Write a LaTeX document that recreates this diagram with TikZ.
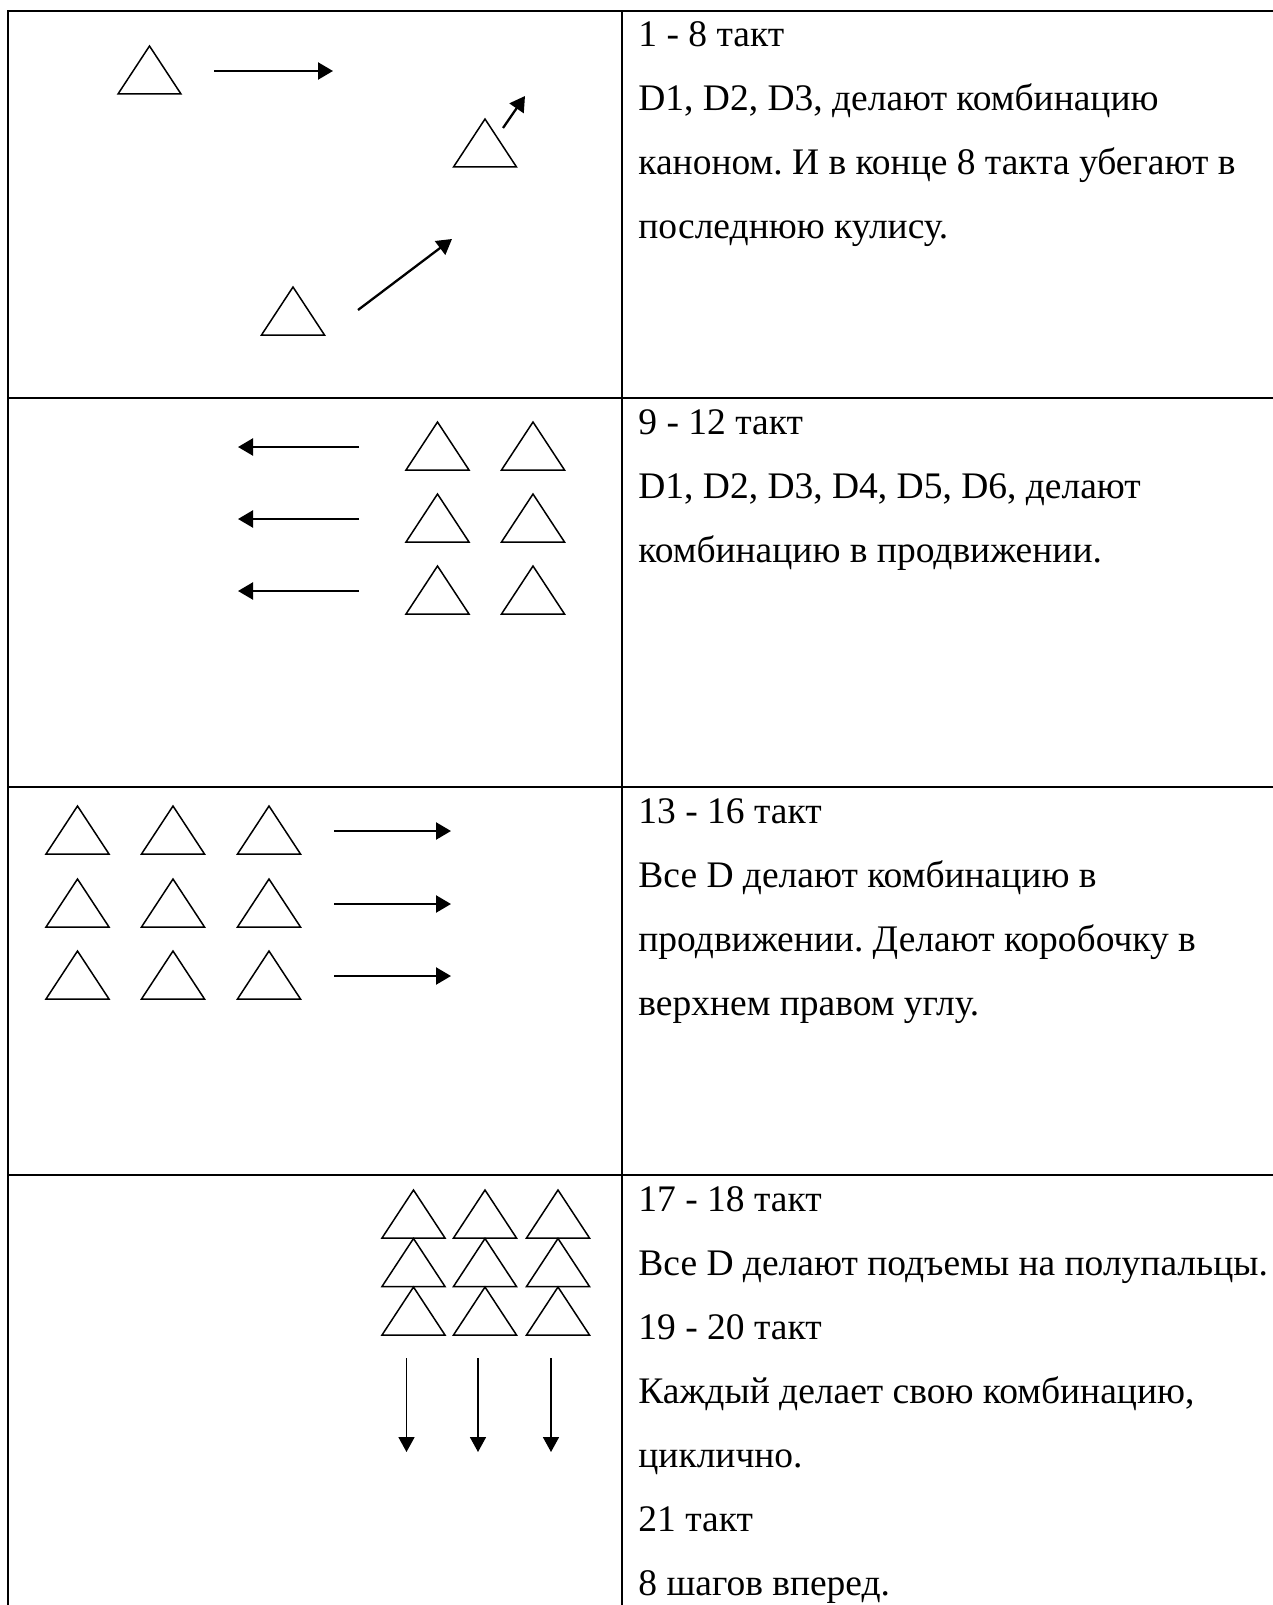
\documentclass[tikz,border=0pt]{standalone}
\usepackage{fontspec}
\setmainfont{Liberation Serif}
\usetikzlibrary{arrows.meta}
\frenchspacing

\newcommand*{\wmax}{1273}
\newcommand*{\hmax}{1605}
\newcommand*{\divx}{622}
\newcommand*{\txtx}{638}

% one dancer, anchored at the middle of its base
\tikzset{
	dancer/.pic={\draw[line width=0.75pt] (-31.5,0) -- (0,-48) -- (31.5,0) -- cycle;}
}

\begin{document}
\begin{tikzpicture}
[
	x=0.5pt, y=-0.5pt,
	rule/.style={line width=1.2pt},
	move/.style={line width=1.15pt,-{Triangle[length=7.5pt,width=8.5pt]}},
	step down/.style={line width=0.85pt,-{Triangle[length=7.5pt,width=8pt]}},
	txt/.style={anchor=base west,inner sep=0pt,font=\fontsize{18.75}{32}\selectfont}
]

	\useasboundingbox (0,0) rectangle (\wmax,\hmax);

	% table
	\draw[rule] (8,\hmax) -- (8,11) -- (\wmax,11);
	\draw[rule] (\divx,11) -- (\divx,\hmax);
	\draw[rule] (8,398) -- (\wmax,398);
	\draw[rule] (8,787) -- (\wmax,787);
	\draw[rule] (8,1175) -- (\wmax,1175);

	% bars 1-8
	\pic (d1) at (149.5,94) {dancer};
	\draw[move] (214,71) -- (333,71);
	\pic (d2) at (485,167) {dancer};
	\draw[move] (503,128) -- (525,96);
	\pic (d3) at (293,335) {dancer};
	\draw[move] (358,310) -- (452,239);

	% bars 9-12
	\foreach \y in {470,542,614} {
		\pic at (437.5,\y) {dancer};
		\pic at (533,\y) {dancer};
		\draw[move] (359,\y-23) -- (238,\y-23);
	}

	% bars 13-16
	\foreach \y in {854,927,999} {
		\foreach \x in {77.5,173,269}
			\pic at (\x,\y) {dancer};
		\draw[move] (334,\y-23) -- (451,\y-23);
	}

	% bars 17-21
	\foreach \x in {413.5,485,558} {
		\foreach \y in {1238,1286.5,1335}
			\pic at (\x,\y) {dancer};
		\draw[step down] (\x-7,1358) -- (\x-7,1452);
	}

	% notes
	\node[txt] (n1a) at (\txtx,47) {1 - 8 такт};
	\node[txt] (n1b) at (\txtx,111) {D1, D2, D3, делают комбинацию};
	\node[txt] (n1c) at (\txtx,175) {каноном. И в конце 8 такта убегают в};
	\node[txt] (n1d) at (\txtx,239) {последнюю кулису.};

	\node[txt] (n2a) at (\txtx,434) {9 - 12 такт};
	\node[txt] (n2b) at (\txtx,498) {D1, D2, D3, D4, D5, D6, делают};
	\node[txt] (n2c) at (\txtx,562) {комбинацию в продвижении.};

	\node[txt] (n3a) at (\txtx,823) {13 - 16 такт};
	\node[txt] (n3b) at (\txtx,887) {Все D делают комбинацию в};
	\node[txt] (n3c) at (\txtx,951) {продвижении. Делают коробочку в};
	\node[txt] (n3d) at (\txtx,1015) {верхнем правом углу.};

	\node[txt] (n4a) at (\txtx,1211) {17 - 18 такт};
	\node[txt] (n4b) at (\txtx,1275) {Все D делают подъемы на полупальцы.};
	\node[txt] (n4c) at (\txtx,1339) {19 - 20 такт};
	\node[txt] (n4d) at (\txtx,1403) {Каждый делает свою комбинацию,};
	\node[txt] (n4e) at (\txtx,1467) {циклично.};
	\node[txt] (n4f) at (\txtx,1531) {21 такт};
	\node[txt] (n4g) at (\txtx,1595) {8 шагов вперед.};

\end{tikzpicture}
\end{document}
